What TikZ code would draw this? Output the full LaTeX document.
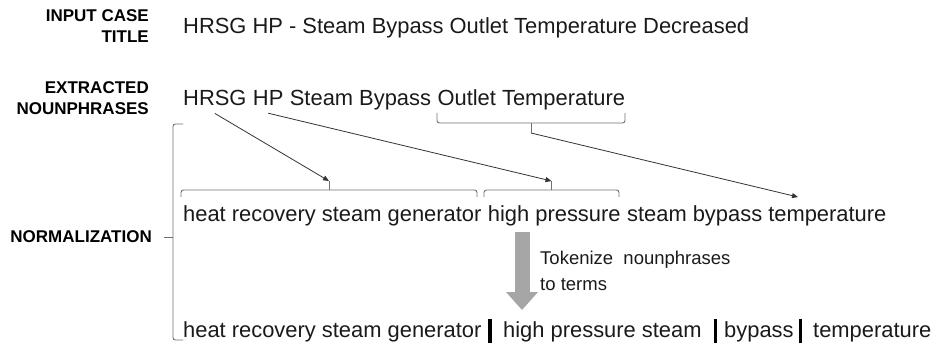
\documentclass[tikz,border=0pt]{standalone}
\usepackage{fontspec}
\setmainfont{Liberation Sans}
\usetikzlibrary{arrows.meta,calc}
\definecolor{txt}{HTML}{1A1A1A}
\definecolor{linec}{HTML}{333333}
\definecolor{brc}{HTML}{707070}
\definecolor{garrow}{HTML}{A6A6A6}
\begin{document}
\begin{tikzpicture}[x=1pt,y=-1pt,
  lab/.style={font=\fontsize{17}{20}\selectfont\bfseries, inner sep=0pt, anchor=base east, text=black},
  big/.style={font=\fontsize{21.9}{26}\selectfont, inner sep=0pt, anchor=base west, text=txt},
  tok/.style={font=\fontsize{18.5}{22}\selectfont, inner sep=0pt, anchor=base west, text=txt},
  conn/.style={draw=linec, line width=0.8pt, -{Triangle[length=6pt,width=5pt]}},
  bracepath/.style={draw=brc, line width=0.9pt, rounded corners=2.5pt},
  sepbar/.style={draw=black, line width=3.5pt},
  bigarrow/.style={draw=garrow, line width=15pt, -{Triangle[length=18pt,width=31pt]}},
]
\useasboundingbox (0,0) rectangle (933,350);

% labels
\node[lab] (l1a) at (149,21.7) {INPUT CASE};
\node[lab] (l1b) at (149,42.7) {TITLE};
\node[lab] (l2a) at (149,94) {EXTRACTED};
\node[lab] (l2b) at (149,114) {NOUNPHRASES};
\node[lab, anchor=east] (l3) at (152,236.7) {NORMALIZATION};

% title
\node[big] (title) at (183,34) {HRSG HP - Steam Bypass Outlet Temperature Decreased};

% extracted nounphrases
\node[big] (hrsg) at (183,105.5) {HRSG};
\node[big] (hp) at ($(hrsg.base east)+(6.09,0)$) {HP};
\node[big] (sb) at ($(hp.base east)+(6.09,0)$) {Steam Bypass};
\node[big] (ot) at ($(sb.base east)+(6.09,0)$) {Outlet Temperature};

% normalization line 1
\node[big] (n1) at (183,221) {heat recovery steam generator};
\node[big] (n2) at ($(n1.base east)+(6.09,0)$) {high pressure};
\node[big] (n3) at ($(n2.base east)+(6.09,0)$) {steam bypass temperature};

% normalization line 2
\node[big] (m1) at (183,337) {heat recovery steam generator};
\node[big] (m2) at (503,337) {high pressure steam};
\node[big] (m3) at (724,337) {bypass};
\node[big] (m4) at (813,337) {temperature};
\draw[sepbar] (490,319) -- (490,343);
\draw[sepbar] (715.5,319) -- (715.5,343);
\draw[sepbar] (800.5,319) -- (800.5,343);

% tokenize
\node[tok] (tk1) at (540,264) {Tokenize~ nounphrases};
\node[tok] (tk2) at (540,290.5) {to terms};
\coordinate (ga1) at (522,232);
\coordinate (ga2) at (522,310);
\draw[bigarrow] (ga1) -- (ga2);

% braces
\draw[bracepath] (437,113) -- (437,123) -- (625,123) -- (625,113);
\draw[bracepath] (531,123) -- (531,133);
\coordinate (b0) at (531,133);

\draw[bracepath] (181,197) -- (181,190) -- (477,190) -- (477,197);
\draw[bracepath] (329,190) -- (329,181);
\coordinate (b1) at (329,181);

\draw[bracepath] (484,197) -- (484,190) -- (619,190) -- (619,197);
\draw[bracepath] (551.5,190) -- (551.5,181);
\coordinate (b2) at (551.5,181);

\coordinate (t3) at (798,197);

% big left bracket
\draw[bracepath] (183,124) -- (173,124) -- (173,340) -- (183,340);
\draw[bracepath] (173,237) -- (164,237);

% connectors
\draw[conn] ($(hrsg.south)+(0,7.5)$) -- (b1);
\draw[conn] ($(hp.south)+(0,7.5)$) -- (b2);
\draw[conn] (b0) -- (t3);
\end{tikzpicture}
\end{document}
